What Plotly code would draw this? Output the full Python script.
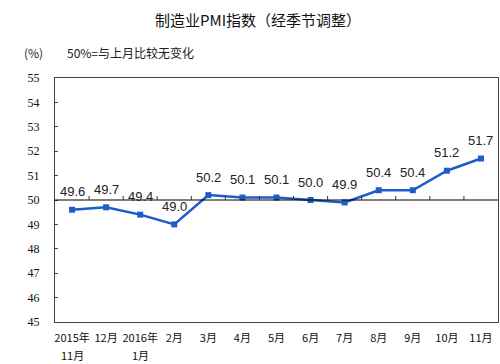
import plotly.graph_objects as go

categories = ["2015年", "12月", "2016年", "2月", "3月", "4月", "5月",
              "6月", "7月", "8月", "9月", "10月", "11月"]
category_sub = ["11月", "", "1月", "", "", "", "", "", "", "", "", "", ""]
pmi = [49.6, 49.7, 49.4, 49.0, 50.2, 50.1, 50.1, 50.0, 49.9, 50.4, 50.4, 51.2, 51.7]
y_ticks = [45, 46, 47, 48, 49, 50, 51, 52, 53, 54, 55]

L, R, T, B = 55, 2, 78, 42
W, H = 500, 364
pw, ph = W - L - R, H - T - B

def px_x(p):
    return (p - L) / pw

def px_y(p):
    return (H - B - p) / ph

blue = "#1E5CC8"
xs = list(range(len(categories)))
tick_font = dict(family="Noto Sans CJK SC", size=11, color="#111")

fig = go.Figure()
fig.add_trace(go.Scatter(
    x=xs, y=pmi, mode="lines+markers",
    line=dict(color=blue, width=2.5),
    marker=dict(symbol="square", size=6, color=blue),
    hoverinfo="skip", showlegend=False,
))

for xi, v in zip(xs, pmi):
    fig.add_annotation(x=xi, y=v, text=f"{v:.1f}", showarrow=False,
                       yshift=18, yanchor="middle", xanchor="center",
                       font=dict(family="Liberation Sans, Arial", size=13, color="#222"))

# second line of the two-line category labels
for xi, s in zip(xs, category_sub):
    if s:
        fig.add_annotation(x=xi, xref="x", yref="paper", y=px_y(355), text=s, showarrow=False,
                           xanchor="center", yanchor="middle", font=tick_font)

# 50 reference line
fig.add_shape(type="line", xref="paper", yref="y", x0=0, x1=1, y0=50, y1=50,
              line=dict(color="#000", width=1))
# small ticks on the 50 line at category boundaries
for i in range(1, len(categories)):
    fig.add_shape(type="line", xref="x", yref="y", x0=i - 0.5, x1=i - 0.5,
                  ysizemode="pixel", yanchor=50, y0=0, y1=4,
                  line=dict(color="#333", width=1))

fig.add_annotation(xref="paper", yref="paper", x=px_x(22), y=px_y(53), text="(%)",
                   showarrow=False, xanchor="left", yanchor="middle",
                   font=dict(family="Noto Sans CJK SC", size=12, color="#222"))
fig.add_annotation(xref="paper", yref="paper", x=px_x(65), y=px_y(53), text="50%=与上月比较无变化",
                   showarrow=False, xanchor="left", yanchor="middle",
                   font=dict(family="Noto Sans CJK SC", size=12, color="#222"))

fig.update_layout(
    width=W, height=H,
    margin=dict(l=L, r=R, t=T, b=B, pad=0, autoexpand=False),
    paper_bgcolor="white", plot_bgcolor="white",
    title=dict(text="制造业PMI指数（经季节调整）", x=258 / W, xref="container", xanchor="center",
               y=1 - 21 / H, yref="container", yanchor="middle",
               font=dict(family="Noto Sans CJK SC", size=15, color="#111")),
    xaxis=dict(tickmode="array", tickvals=xs, ticktext=categories, range=[-0.5, len(categories) - 0.5],
               showgrid=False, zeroline=False, showline=True, linecolor="#444", linewidth=1,
               mirror=True, ticks="", tickfont=tick_font,
               ticklabelstandoff=6, automargin=False),
    yaxis=dict(range=[45, 55], tickvals=y_ticks, showgrid=False, zeroline=False,
               showline=True, linecolor="#444", linewidth=1, mirror=True,
               ticks="inside", ticklen=3, tickcolor="#444",
               tickfont=dict(family="Liberation Serif", size=12, color="#111"),
               ticklabelstandoff=12, automargin=False),
)

fig.write_html("out.html", config={"displayModeBar": False},
               post_script="document.body.style.margin='0';document.body.style.padding='0';")
